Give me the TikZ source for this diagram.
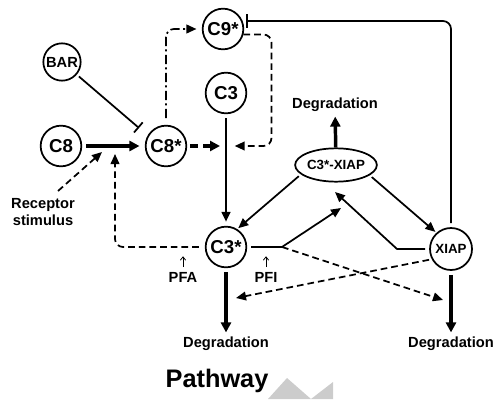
\documentclass[tikz,border=0pt]{standalone}
\usepackage{fontspec}
\setmainfont{Liberation Sans}
\usetikzlibrary{arrows.meta,shapes.geometric}

\tikzset{
  casp/.style={draw,circle,line width=1.3pt,minimum size=30.5pt,inner sep=0pt,font=\bfseries\fontsize{14}{14}\selectfont},
  lbl/.style={font=\bfseries\fontsize{11}{13}\selectfont,align=center},
  act/.style={line width=1.3pt,-{Triangle[length=7.5pt,width=6.5pt]}},
  actthick/.style={line width=2.6pt,-{Triangle[length=7.5pt,width=7.5pt]}},
  dsh/.style={dash pattern=on 5pt off 3pt},
  inhib/.style={line width=1.3pt,-{Bar[width=10pt]}},
  pointer/.style={line width=0.6pt,-{Straight Barb[length=2.5pt,width=4pt]}}
}

\begin{document}
\begin{tikzpicture}[x=0.75pt,y=0.75pt,yscale=-1,xscale=1]
\useasboundingbox (0,0) rectangle (498,399);

%Shape: watermark
\fill[black!20] (268,399) -- (287,378) -- (311,399) -- (333,382) -- (333,399) -- cycle;

%Shape: Circle
\node[casp] (C9s) at (223,29) {C9*};
%Shape: Circle
\node[casp,minimum size=28pt,font=\bfseries\fontsize{11}{11}\selectfont] (BAR) at (62,62) {BAR};
%Shape: Circle
\node[casp] (C3) at (226,93) {C3};
%Shape: Circle
\node[casp] (C8) at (61,146) {C8};
%Shape: Circle
\node[casp] (C8s) at (166,146) {C8*};
%Shape: Circle
\node[casp] (C3s) at (226,247) {C3*};
%Shape: Circle
\node[casp,minimum size=31.5pt,font=\bfseries\fontsize{10}{10}\selectfont] (XIAP) at (451,249) {XIAP};
%Shape: Ellipse
\node[draw,ellipse,line width=1.3pt,minimum width=58pt,minimum height=25pt,inner sep=0pt,font=\bfseries\fontsize{10}{10}\selectfont] (C3X) at (336,165) {C3*-XIAP};

% Text Node
\node[lbl] (degtop) at (335,105) {Degradation};
% Text Node
\node[lbl] (degC3) at (226,344) {Degradation};
% Text Node
\node[lbl] (degXIAP) at (451,344) {Degradation};
% Text Node
\node[lbl] (rec) at (43,212) {Receptor\\stimulus};
% Text Node
\node[lbl] (PFA) at (183,277) {PFA};
% Text Node
\node[lbl] (PFI) at (266,277) {PFI};
% Text Node
\node[font=\bfseries\fontsize{19}{19}\selectfont] (title) at (217,381) {Pathway};

% free ends
\coordinate (join) at (226,146);
\coordinate (recS) at (58,191);
\coordinate (recT) at (102,152);
\coordinate (pfaT) at (115,154);
\coordinate (barT) at (139,128);
\coordinate (xbend) at (397,249);
\coordinate (xtip) at (335,192);
\coordinate (pfibr) at (282,247);
\coordinate (pfitip) at (341,208);
\coordinate (pfidtip) at (443,300);
\coordinate (xdtip) at (236,298);
\coordinate (inhT) at (246,21);

%Straight Lines
\draw[actthick,shorten <=3pt,shorten >=4pt] (C8) -- (C8s);
\draw[inhib,shorten <=2pt] (BAR) -- (barT);
\draw[act,dsh] (recS) -- (recT);
\draw[act,dsh,rounded corners=6,shorten <=4.5pt] (C3s.west) -| (pfaT);
\draw[actthick,dash pattern=on 6pt off 4pt,shorten <=2pt,shorten >=4.5pt] (C8s) -- (join);
\draw[act,dash pattern=on 7pt off 2.5pt on 1.5pt off 2.5pt,rounded corners=6,shorten <=5pt,shorten >=4pt] (C8s.north) |- (C9s.west);
\draw[act,dsh,rounded corners=6,shorten >=6.5pt] (C9s.-15) -- ++(28,0) |- (join);
\draw[act,line width=1.8pt,shorten <=3pt,shorten >=3pt] (C3) -- (C3s);
\draw[act,shorten <=2pt,shorten >=1pt] (C3X.195) -- (C3s.58);
\draw[act,shorten <=2pt,shorten >=1pt] (C3X.-17) -- (XIAP.132);
\draw[actthick] (C3X) -- (degtop);
\draw[act,shorten <=3pt] (XIAP.west) -- (xbend) -- (xtip);
\draw[line width=1.3pt,shorten <=3pt] (C3s.east) -- (pfibr);
\draw[act] (pfibr) -- (pfitip);
\draw[act,dsh] (pfibr) -- (pfidtip);
\draw[act,dsh,shorten <=2pt] (XIAP.208) -- (xdtip);
\draw[actthick,shorten <=3pt] (C3s) -- (degC3);
\draw[actthick,shorten <=3pt] (XIAP) -- (degXIAP);
\draw[inhib,rounded corners=6,shorten <=3pt] (XIAP.north) |- (inhT);
\draw[pointer] (PFA.north) -- ++(0,-11);
\draw[pointer] (PFI.north) -- ++(0,-11);

\end{tikzpicture}
\end{document}
